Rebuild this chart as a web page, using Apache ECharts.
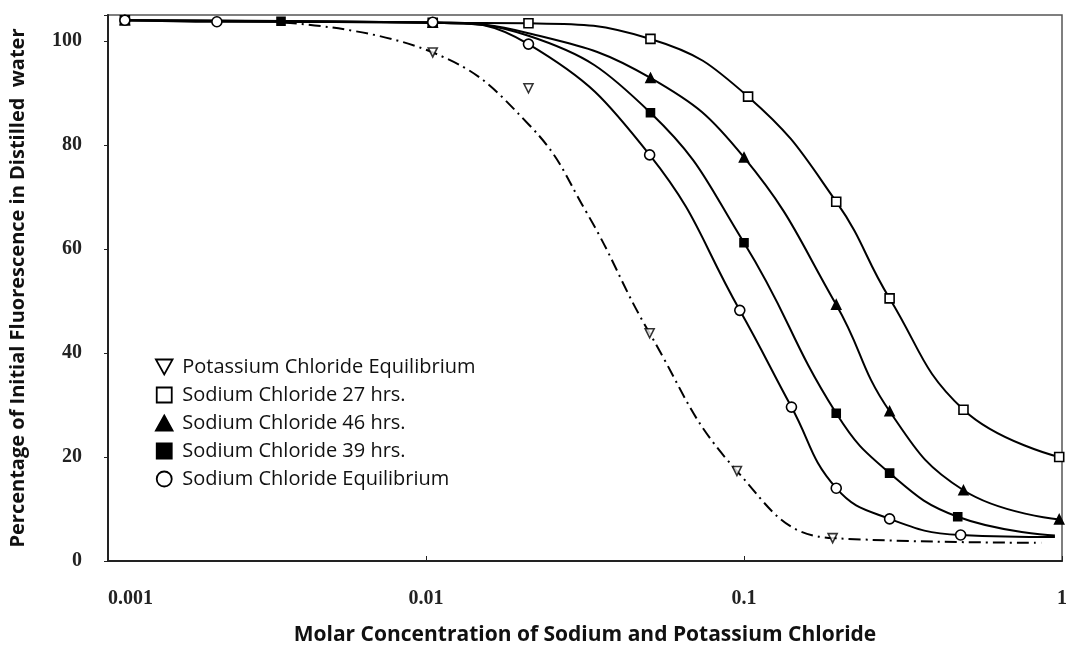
<!DOCTYPE html>
<html>
<head>
<meta charset="utf-8">
<script src="https://cdn.jsdelivr.net/npm/echarts@6/dist/echarts.min.js"></script>
<style>html,body{margin:0;padding:0;background:#fff}#c{width:1070px;height:651px}</style>
</head>
<body>
<div id="c"></div>
<script>
// Data
const seriesNames = ['Potassium Chloride Equilibrium', 'Sodium Chloride 27 hrs.', 'Sodium Chloride 46 hrs.', 'Sodium Chloride 39 hrs.', 'Sodium Chloride Equilibrium'];

const concKCl = [0.0105, 0.021, 0.0505, 0.095, 0.19];
const pctKCl  = [97.8, 90.9, 43.8, 17.3, 4.4];
const concKClCurve = [0.0036, 0.0105, 0.021, 0.032, 0.0505, 0.095, 0.19, 0.86];
const pctKClCurve  = [103.5, 97.8, 84.0, 67.0, 43.8, 17.3, 4.4, 3.5];

const conc27 = [0.00113, 0.0105, 0.021, 0.0508, 0.103, 0.195, 0.287, 0.49, 0.98];
const pct27  = [104, 103.5, 103.4, 100.4, 89.3, 69.1, 50.5, 29.1, 20.0];

const conc46 = [0.00113, 0.0105, 0.021, 0.0508, 0.1, 0.195, 0.287, 0.49, 0.98];
const pct46  = [104, 103.5, 101.5, 92.9, 77.6, 49.3, 28.8, 13.6, 8.0];

const conc39 = [0.00113, 0.0035, 0.0105, 0.021, 0.0508, 0.1, 0.195, 0.287, 0.47, 0.95];
const pct39  = [104, 103.8, 103.5, 101.0, 86.2, 61.2, 28.4, 16.9, 8.5, 4.9];

const concEq = [0.00113, 0.0022, 0.0105, 0.021, 0.0505, 0.097, 0.141, 0.195, 0.287, 0.48, 0.95];
const pctEq  = [104, 103.7, 103.6, 99.4, 78.1, 48.2, 29.6, 14.0, 8.1, 5.0, 4.6];

const xTickLabels = ['0.001', '0.01', '0.1', '1'];

// indices of points on the curves that carry no visible marker
const hiddenMarks = [[], [], [2], [3, 9], [10]];

const downTri = 'path://M0,0 L10,0 L5,9 Z';
const upTri = 'path://M5,0 L10,9 L0,9 Z';
const square = 'path://M0,0 L10,0 L10,10 L0,10 Z';
const styles = [
  {symbol: downTri, size: 9, fill: '#fff', dash: [12, 5, 2, 5], icon: downTri},
  {symbol: 'rect', size: 9, fill: '#fff', dash: 'solid', icon: square},
  {symbol: 'triangle', size: 9, fill: '#000', dash: 'solid', icon: upTri},
  {symbol: 'rect', size: 8, fill: '#000', dash: 'solid', icon: square},
  {symbol: 'circle', size: 10, fill: '#fff', dash: 'solid', icon: 'circle'}
];
const xs = [concKCl, conc27, conc46, conc39, concEq];
const ys = [pctKCl, pct27, pct46, pct39, pctEq];

const SMOOTH = 0.45;
const series = [];
// KCl fitted curve (line only)
series.push({
  name: seriesNames[0], type: 'line', smooth: SMOOTH, symbol: 'none', z: 2,
  lineStyle: {color: '#000', width: 2, type: styles[0].dash},
  emphasis: {disabled: true},
  data: concKClCurve.map((x, k) => [x, pctKClCurve[k]])
});
// KCl markers
series.push({
  name: seriesNames[0], type: 'scatter', symbol: styles[0].symbol, symbolSize: styles[0].size, z: 4,
  itemStyle: {color: styles[0].fill, borderColor: '#000', borderWidth: 1.6},
  emphasis: {disabled: true},
  data: concKCl.map((x, k) => [x, pctKCl[k]])
});
for (let i = 1; i < seriesNames.length; i++) {
  series.push({
    name: seriesNames[i],
    type: 'line',
    smooth: SMOOTH,
    symbol: styles[i].symbol,
    symbolSize: styles[i].size,
    showAllSymbol: true,
    z: 3,
    lineStyle: {color: '#000', width: 2, type: styles[i].dash},
    itemStyle: {color: styles[i].fill, borderColor: '#000', borderWidth: 1.6},
    emphasis: {disabled: true},
    data: xs[i].map((x, k) => hiddenMarks[i].indexOf(k) >= 0
      ? {value: [x, ys[i][k]], symbolSize: 0}
      : {value: [x, ys[i][k]]})
  });
}

const chart = echarts.init(document.getElementById('c'), null, {renderer: 'canvas'});
chart.setOption({
  backgroundColor: '#fff',
  animation: false,
  grid: {left: 108, right: 8, top: 15, bottom: 90, show: true, borderColor: '#555', borderWidth: 1.5,
         containLabel: false, outerBoundsMode: 'none'},
  legend: {
    orient: 'vertical', left: 150, top: 352, itemGap: 8, itemWidth: 26, itemHeight: 15,
    textStyle: {fontFamily: 'Open Sans', fontSize: 20, lineHeight: 20, color: '#111'},
    data: seriesNames.map((n, i) => ({
      name: n,
      icon: styles[i].icon,
      itemStyle: {color: styles[i].fill, borderColor: '#000', borderWidth: 1.8}
    }))
  },
  xAxis: {
    type: 'log', logBase: 10, min: 0.001, max: 1,
    name: 'Molar Concentration of Sodium and Potassium Chloride',
    nameLocation: 'middle', nameGap: 64,
    nameTextStyle: {fontFamily: 'Open Sans', fontWeight: 'bold', fontSize: 21, color: '#111'},
    axisLine: {lineStyle: {color: '#222', width: 2}},
    axisTick: {inside: true, length: 5, lineStyle: {color: '#222'}},
    splitLine: {show: false},
    minorTick: {show: false},
    axisLabel: {
      margin: 28, fontFamily: 'Liberation Serif', fontWeight: 'bold', fontSize: 20, color: '#222',
      alignMinLabel: 'left',
      formatter: v => { const i = Math.round(Math.log10(v)) + 3; return xTickLabels[i] || ''; }
    }
  },
  yAxis: {
    type: 'value', min: 0, max: 105, interval: 20,
    name: 'Percentage of Initial Fluorescence in Distilled  water',
    nameLocation: 'middle', nameGap: 80,
    nameTextStyle: {fontFamily: 'Open Sans', fontWeight: 'bold', fontSize: 20, color: '#111'},
    axisLine: {show: true, lineStyle: {color: '#222', width: 2}},
    axisTick: {show: true, length: 4, lineStyle: {color: '#222'}},
    splitLine: {show: false},
    axisLabel: {
      margin: 26, fontFamily: 'Liberation Serif', fontWeight: 'bold', fontSize: 20, color: '#222',
      formatter: v => (v % 20 === 0 ? String(v) : '')
    }
  },
  series: series
});
</script>
</body>
</html>
